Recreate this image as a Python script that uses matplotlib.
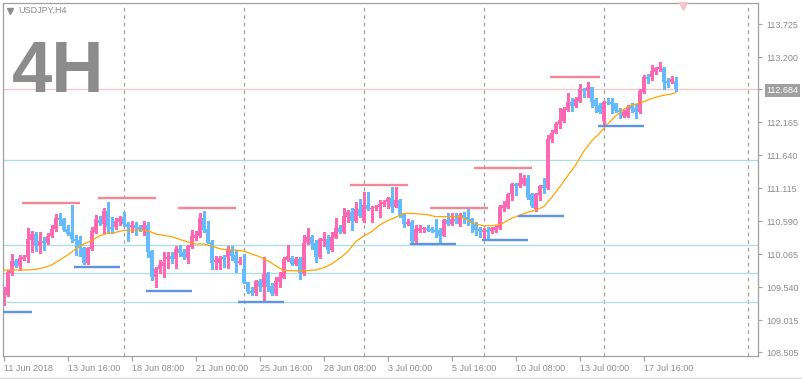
import matplotlib
matplotlib.use('Agg')
import matplotlib.pyplot as plt
from matplotlib.lines import Line2D

plt.rcParams['font.family'] = ['Liberation Sans', 'DejaVu Sans']

## USDJPY H4 candles (bar 0 = 11 Jun 2018 00:00)
opens = [
    109.281, 109.413, 109.769, 109.954, 109.875, 109.986, 110.013, 110.288, 110.384, 110.198,
    110.278, 110.246, 110.352, 110.458, 110.644, 110.622, 110.463, 110.410, 110.304, 110.288,
    110.166, 109.917, 110.145, 110.410, 110.607, 110.543, 110.750, 110.490, 110.490, 110.580,
    110.649, 110.538, 110.490, 110.527, 110.490, 110.447, 110.527, 110.113, 109.705, 109.822,
    109.875, 109.981, 110.034, 109.981, 110.145, 110.103, 109.997, 110.182, 110.315, 110.352,
    110.633, 110.463, 110.262, 109.944, 109.928, 110.013, 110.013, 110.129, 110.050, 109.928,
    109.827, 109.615, 109.482, 109.440, 109.636, 109.535, 109.758, 109.562, 109.429, 109.626,
    109.689, 109.970, 109.997, 109.907, 109.986, 109.747, 110.235, 110.341, 110.246, 110.013,
    110.278, 110.304, 110.129, 110.325, 110.485, 110.410, 110.660, 110.739, 110.591, 110.782,
    110.591, 110.845, 110.782, 110.792, 110.819, 110.856, 110.898, 110.951, 110.819, 110.925,
    110.697, 110.538, 110.580, 110.272, 110.437, 110.458, 110.474, 110.463, 110.447, 110.447,
    110.357, 110.607, 110.543, 110.617, 110.543, 110.686, 110.660, 110.617, 110.554, 110.458,
    110.416, 110.447, 110.437, 110.447, 110.474, 110.792, 110.808, 111.020, 111.174, 111.147,
    111.179, 111.280, 111.015, 110.776, 111.004, 111.163, 111.110, 111.890, 111.996, 112.134,
    112.187, 112.357, 112.489, 112.420, 112.505, 112.685, 112.664, 112.717, 112.516, 112.436,
    112.182, 112.489, 112.479, 112.463, 112.357, 112.266, 112.266, 112.436, 112.383, 112.330,
    112.638, 112.887, 112.887, 112.966, 113.004, 113.030, 112.818, 112.797, 112.818]
highs = [
    109.535, 109.811, 110.066, 109.981, 110.050, 110.050, 110.474, 110.432, 110.421, 110.421,
    110.341, 110.394, 110.527, 110.697, 110.723, 110.633, 110.527, 110.845, 110.368, 110.357,
    110.182, 110.182, 110.500, 110.686, 110.675, 110.803, 110.888, 110.660, 110.644, 110.670,
    110.729, 110.569, 110.596, 110.569, 110.527, 110.591, 110.580, 110.129, 109.864, 109.970,
    110.092, 110.092, 110.103, 110.193, 110.209, 110.145, 110.209, 110.447, 110.432, 110.723,
    110.755, 110.591, 110.288, 110.034, 110.034, 110.050, 110.198, 110.198, 110.129, 110.023,
    110.066, 109.625, 109.546, 109.652, 109.668, 110.013, 109.785, 109.599, 109.705, 109.785,
    110.013, 110.209, 110.034, 110.013, 110.013, 110.368, 110.474, 110.368, 110.288, 110.315,
    110.410, 110.368, 110.410, 110.644, 110.527, 110.803, 110.766, 110.792, 110.888, 110.941,
    111.047, 111.047, 110.829, 110.845, 110.925, 110.925, 110.978, 111.126, 111.126, 110.941,
    110.723, 110.617, 110.607, 110.527, 110.527, 110.500, 110.527, 110.490, 110.617, 110.474,
    110.622, 110.713, 110.713, 110.713, 110.723, 110.739, 110.782, 110.633, 110.580, 110.500,
    110.474, 110.500, 110.500, 110.527, 110.845, 110.914, 111.041, 111.190, 111.190, 111.360,
    111.322, 111.322, 111.041, 111.031, 111.163, 111.269, 111.959, 112.038, 112.171, 112.383,
    112.399, 112.632, 112.542, 112.569, 112.765, 112.712, 112.797, 112.728, 112.542, 112.463,
    112.500, 112.553, 112.542, 112.473, 112.383, 112.357, 112.436, 112.463, 112.447, 112.685,
    112.913, 112.924, 113.072, 113.046, 113.125, 113.046, 112.860, 112.897, 112.876]
lows = [
    109.254, 109.397, 109.732, 109.864, 109.811, 109.970, 109.944, 110.103, 110.113, 110.076,
    110.129, 110.225, 110.341, 110.432, 110.527, 110.437, 110.368, 110.251, 110.050, 110.034,
    109.901, 109.907, 110.129, 110.394, 110.527, 110.394, 110.394, 110.394, 110.458, 110.527,
    110.516, 110.278, 110.410, 110.368, 110.437, 110.368, 110.013, 109.652, 109.535, 109.758,
    109.694, 109.838, 109.928, 109.838, 110.039, 109.981, 109.917, 110.166, 110.288, 110.341,
    110.421, 110.235, 109.827, 109.822, 109.822, 109.864, 109.838, 109.970, 109.785, 109.907,
    109.599, 109.440, 109.413, 109.413, 109.482, 109.334, 109.482, 109.413, 109.413, 109.535,
    109.679, 109.960, 109.891, 109.891, 109.663, 109.732, 110.225, 110.140, 109.944, 109.997,
    110.193, 110.076, 110.119, 110.315, 110.394, 110.394, 110.580, 110.447, 110.580, 110.660,
    110.580, 110.766, 110.580, 110.766, 110.660, 110.829, 110.792, 110.739, 110.808, 110.660,
    110.500, 110.527, 110.262, 110.262, 110.421, 110.421, 110.432, 110.416, 110.341, 110.262,
    110.352, 110.527, 110.527, 110.564, 110.511, 110.554, 110.527, 110.421, 110.368, 110.341,
    110.288, 110.315, 110.394, 110.421, 110.463, 110.755, 110.792, 110.925, 111.004, 111.126,
    111.163, 110.935, 110.819, 110.750, 110.925, 111.031, 111.100, 111.853, 111.985, 112.065,
    112.171, 112.346, 112.346, 112.410, 112.489, 112.569, 112.569, 112.410, 112.319, 112.304,
    112.118, 112.447, 112.304, 112.319, 112.224, 112.250, 112.250, 112.330, 112.224, 112.314,
    112.622, 112.781, 112.834, 112.929, 112.982, 112.685, 112.717, 112.781, 112.664]
closes = [
    109.429, 109.785, 109.960, 109.875, 110.007, 110.018, 110.299, 110.384, 110.193, 110.272,
    110.246, 110.352, 110.463, 110.633, 110.607, 110.447, 110.384, 110.304, 110.272, 110.156,
    109.917, 110.156, 110.432, 110.622, 110.554, 110.750, 110.490, 110.458, 110.596, 110.644,
    110.538, 110.490, 110.527, 110.474, 110.458, 110.527, 110.103, 109.705, 109.827, 109.891,
    109.944, 110.013, 109.981, 110.145, 110.087, 110.023, 110.193, 110.352, 110.368, 110.633,
    110.447, 110.246, 109.928, 109.970, 109.997, 109.981, 110.129, 110.034, 109.928, 109.960,
    109.610, 109.466, 109.440, 109.636, 109.535, 109.747, 109.546, 109.429, 109.636, 109.705,
    109.986, 110.034, 109.907, 109.986, 109.758, 110.246, 110.341, 110.225, 110.013, 110.299,
    110.304, 110.129, 110.341, 110.485, 110.410, 110.675, 110.739, 110.591, 110.782, 110.675,
    110.845, 110.782, 110.803, 110.819, 110.856, 110.898, 110.951, 110.819, 110.925, 110.686,
    110.538, 110.580, 110.272, 110.463, 110.485, 110.474, 110.447, 110.432, 110.421, 110.357,
    110.607, 110.543, 110.617, 110.591, 110.686, 110.660, 110.607, 110.554, 110.447, 110.432,
    110.447, 110.421, 110.474, 110.490, 110.819, 110.845, 111.020, 111.174, 111.147, 111.190,
    111.269, 110.962, 110.829, 111.015, 111.147, 111.110, 111.890, 111.996, 112.134, 112.197,
    112.367, 112.489, 112.425, 112.532, 112.685, 112.664, 112.717, 112.489, 112.425, 112.330,
    112.479, 112.463, 112.452, 112.346, 112.319, 112.330, 112.410, 112.372, 112.319, 112.664,
    112.876, 112.850, 112.982, 113.019, 113.046, 112.807, 112.791, 112.850, 112.684]

## moving average
ma_bars = [0, 6] + list(range(8, 125, 2)) + list(range(125, 168, 2)) + [168]
ma_vals = [
    109.811, 109.811, 109.822, 109.848, 109.891, 109.970, 110.050, 110.145, 110.225, 110.278,
    110.357, 110.394, 110.410, 110.442, 110.447, 110.447, 110.437, 110.384, 110.363, 110.341,
    110.299, 110.257, 110.225, 110.225, 110.193, 110.150, 110.129, 110.129, 110.113, 110.066,
    110.023, 109.960, 109.880, 109.801, 109.801, 109.801, 109.801, 109.811, 109.848, 109.907,
    109.997, 110.103, 110.262, 110.352, 110.421, 110.527, 110.596, 110.649, 110.713, 110.713,
    110.702, 110.691, 110.660, 110.660, 110.660, 110.660, 110.607, 110.543, 110.516, 110.516,
    110.530, 110.564, 110.634, 110.682, 110.729, 110.766, 110.818, 110.965, 111.132, 111.307,
    111.482, 111.697, 111.864, 111.986, 112.134, 112.261, 112.368, 112.436, 112.463, 112.516,
    112.559, 112.591, 112.611, 112.632]

## short highs / lows marks (start bar, end bar, level)
res_start = [4.6, 23.6, 43.6, 86.6, 106.6, 117.6, 136.6]
res_end = [19.1, 38.1, 58.1, 101.1, 121.1, 132.1, 149.1]
res_level = [110.882, 110.962, 110.803, 111.168, 110.803, 111.439, 112.887]
sup_start = [-4.4, 17.6, 35.6, 58.6, 101.6, 119.6, 128.6, 148.6]
sup_end = [7.1, 29.1, 47.1, 70.1, 113.1, 131.1, 140.1, 160.1]
sup_level = [109.148, 109.859, 109.482, 109.302, 110.230, 110.293, 110.675, 112.107]

## horizontal levels
levels = [111.561, 110.205, 109.759, 109.298]
last_price = 112.684

week_bars = [30, 60, 90, 120, 150, 186]
xtick_bars = [0, 16, 32, 48, 64, 80, 96, 112, 128, 144, 160]
xtick_labels = ['11 Jun 2018', '13 Jun 16:00', '18 Jun 08:00', '21 Jun 00:00', '25 Jun 16:00',
                '28 Jun 08:00', '3 Jul 00:00', '5 Jul 16:00', '10 Jul 08:00', '13 Jul 00:00',
                '17 Jul 16:00']
ytick_vals = [108.505, 109.015, 109.540, 110.065, 110.590, 111.115, 111.640, 112.165,
              112.684, 113.200, 113.725]
ytick_labels = ['108.505', '109.015', '109.540', '110.065', '110.590', '111.115', '111.640',
                '112.165', '112.684', '113.200', '113.725']

PINK = '#ff69b4'
BLUE = '#66bbff'
GREY = '#a0a0a0'
TXT = '#8c8c8c'

fig = plt.figure(figsize=(8.02, 3.79), dpi=100)
ax = fig.add_axes([2.7/802, 1-356/379, (758-2.7)/802, (356-2.7)/379])

n = len(opens)
bars = list(range(n))
cols = [PINK if c >= o else BLUE for o, c in zip(opens, closes)]
bottoms = [min(o, c) for o, c in zip(opens, closes)]
heights = [max(abs(c - o), 0.012) for o, c in zip(opens, closes)]

for b in week_bars:
    ax.axvline(b, color=GREY, lw=0.9, ls=(0, (3, 3)), zorder=0)
for lv in levels:
    ax.axhline(lv, color='#a9dfe4', lw=0.9, zorder=1)
ax.axhline(last_price, color='#f9c3cb', lw=0.9, zorder=1)

ax.vlines(bars, lows, highs, colors=cols, lw=0.8, zorder=2, antialiased=False)
ax.bar(bars, heights, bottom=bottoms, width=0.75, color=cols, lw=0, zorder=2,
       antialiased=False)

ax.plot(ma_bars, ma_vals, color='#ffa500', lw=0.9, zorder=3)

ax.hlines(res_level, res_start, res_end, colors='#f28896', lw=1.7, zorder=4)
ax.hlines(sup_level, sup_start, sup_end, colors='#5f93e6', lw=1.7, zorder=4)

ax.set_xlim(-0.25, 188.6)
ax.set_ylim(108.443, 114.064)

for sp in ax.spines.values():
    sp.set_color(GREY)
    sp.set_linewidth(0.9)

ax.yaxis.tick_right()
ax.set_yticks(ytick_vals, ytick_labels)
ax.tick_params(axis='y', direction='out', length=3, width=0.8, color=GREY,
               labelcolor=TXT, labelsize=6.5, pad=3)
ax.set_xticks(xtick_bars, xtick_labels)
ax.tick_params(axis='x', direction='out', length=3.5, width=0.8, color=GREY,
               labelcolor=TXT, labelsize=6.5, pad=2)
plt.setp(ax.get_xticklabels(), ha='left')

for lbl in ax.get_yticklabels():
    if lbl.get_text() == '112.684':
        lbl.set_color('white')
        lbl.set_bbox(dict(facecolor=GREY, edgecolor='none', pad=1.2))

## chart-shift marker at the top
ax.plot([(683-3.7)/4], [114.01], marker='v', ms=6, color='#f4c4cc', clip_on=False, zorder=5)

fig.text(12/802, 1-92/379, '4H', fontsize=52, fontweight='bold', color='#8c8c8c',
         va='baseline')
fig.text(18/802, 1-10.5/379, 'USDJPY,H4', fontsize=6.5, color=TXT, va='center')
fig.add_artist(Line2D([9.5/802], [1-11/379], marker='v', ms=4, color=TXT, lw=0,
                      transform=fig.transFigure))
fig.add_artist(Line2D([0, 1], [1-377.5/379, 1-377.5/379], color='#d6d6d6', lw=1,
                      transform=fig.transFigure))

fig.savefig('out.png', dpi=100)
